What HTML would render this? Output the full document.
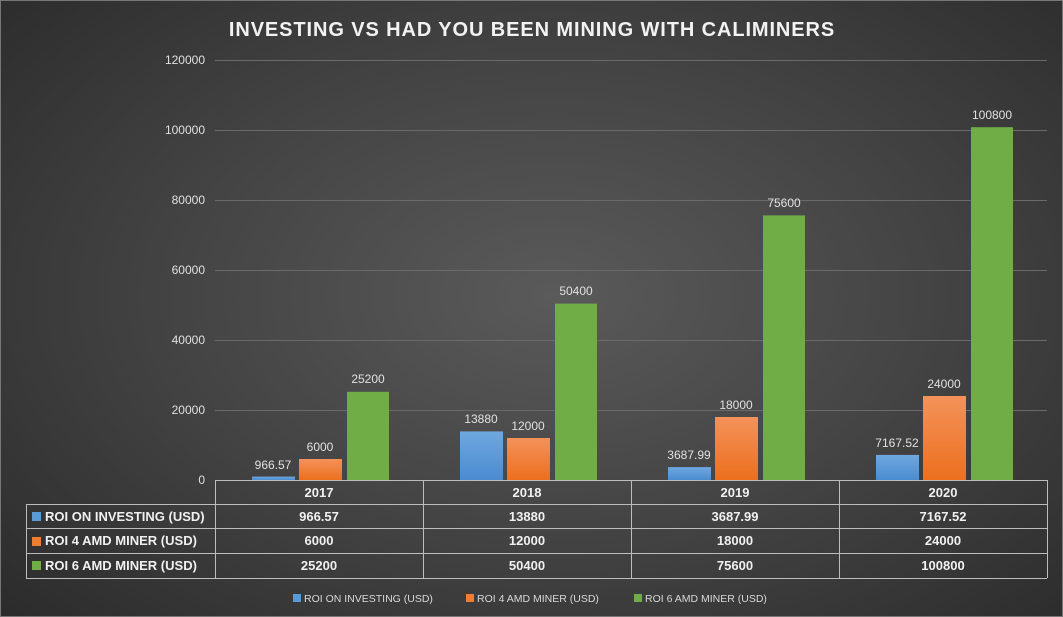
<!DOCTYPE html>
<html><head><meta charset="utf-8"><style>
html,body{margin:0;padding:0;}
body{width:1063px;height:617px;overflow:hidden;background:radial-gradient(ellipse 70% 75% at 52% 48%,#5a5a5a 0%,#444 50%,#2c2c2c 100%);font-family:"Liberation Sans",sans-serif;}
svg{position:absolute;left:0;top:0;}
</style></head><body>
<svg width="1063" height="617" xmlns="http://www.w3.org/2000/svg" font-family="Liberation Sans, sans-serif">
<rect x="0.5" y="0.5" width="1062" height="616" fill="none" stroke="#777"/>
<text x="532" y="36" text-anchor="middle" fill="#f2f2f2" font-size="20" font-weight="bold" letter-spacing="0.9">INVESTING VS HAD YOU BEEN MINING WITH CALIMINERS</text>
<g stroke="#6a6a6a" stroke-width="1">
<line x1="215" x2="1047" y1="60.5" y2="60.5"/><line x1="215" x2="1047" y1="130.5" y2="130.5"/>
<line x1="215" x2="1047" y1="200.5" y2="200.5"/><line x1="215" x2="1047" y1="270.5" y2="270.5"/>
<line x1="215" x2="1047" y1="340.5" y2="340.5"/><line x1="215" x2="1047" y1="410.5" y2="410.5"/>
</g>
<g fill="#e0e0e0" font-size="12" text-anchor="end">
<text x="205" y="64">120000</text><text x="205" y="134">100000</text><text x="205" y="204">80000</text>
<text x="205" y="274">60000</text><text x="205" y="344">40000</text><text x="205" y="414">20000</text><text x="205" y="484">0</text>
</g>
<defs>
<linearGradient id="b" x1="0" y1="0" x2="0" y2="1"><stop offset="0" stop-color="#6fa8e0"/><stop offset="1" stop-color="#4a8bd0"/></linearGradient>
<linearGradient id="o" x1="0" y1="0" x2="0" y2="1"><stop offset="0" stop-color="#f4925a"/><stop offset="1" stop-color="#ec6f1e"/></linearGradient>
</defs>
<g>
<rect x="252" y="476.6" width="43" height="3.4" fill="url(#b)"/>
<rect x="299" y="459" width="43" height="21" fill="url(#o)"/>
<rect x="347" y="391.8" width="42" height="88.2" fill="#70ad47"/>
<rect x="460" y="431.4" width="43" height="48.6" fill="url(#b)"/>
<rect x="507" y="438" width="43" height="42" fill="url(#o)"/>
<rect x="555" y="303.6" width="42" height="176.4" fill="#70ad47"/>
<rect x="668" y="467.1" width="43" height="12.9" fill="url(#b)"/>
<rect x="715" y="417" width="43" height="63" fill="url(#o)"/>
<rect x="763" y="215.4" width="42" height="264.6" fill="#70ad47"/>
<rect x="876" y="454.9" width="43" height="25.1" fill="url(#b)"/>
<rect x="923" y="396" width="43" height="84" fill="url(#o)"/>
<rect x="971" y="127.2" width="42" height="352.8" fill="#70ad47"/>
</g>
<g fill="#e0e0e0" font-size="12" text-anchor="middle">
<text x="273" y="469">966.57</text><text x="320" y="451">6000</text><text x="368" y="383">25200</text>
<text x="481" y="423">13880</text><text x="528" y="430">12000</text><text x="576" y="295">50400</text>
<text x="689" y="459">3687.99</text><text x="736" y="409">18000</text><text x="784" y="207">75600</text>
<text x="897" y="447">7167.52</text><text x="944" y="388">24000</text><text x="992" y="119">100800</text>
</g>
<g stroke="#bdbdbd" stroke-width="1" fill="none">
<line x1="215.5" y1="480" x2="215.5" y2="578"/>
<line x1="423.5" y1="480" x2="423.5" y2="578"/>
<line x1="631.5" y1="480" x2="631.5" y2="578"/>
<line x1="839.5" y1="480" x2="839.5" y2="578"/>
<line x1="1047.5" y1="480" x2="1047.5" y2="578"/>
<line x1="215" y1="480.5" x2="1047" y2="480.5"/>
<line x1="26" y1="504.5" x2="1047" y2="504.5"/>
<line x1="26" y1="528.5" x2="1047" y2="528.5"/>
<line x1="26" y1="553.5" x2="1047" y2="553.5"/>
<line x1="26" y1="578.5" x2="1047" y2="578.5"/>
<line x1="26.5" y1="504" x2="26.5" y2="578"/>
</g>
<g fill="#f0f0f0" font-size="13" font-weight="bold" text-anchor="middle">
<text x="319" y="497">2017</text><text x="527" y="497">2018</text><text x="735" y="497">2019</text><text x="943" y="497">2020</text>
<text x="319" y="521">966.57</text><text x="527" y="521">13880</text><text x="735" y="521">3687.99</text><text x="943" y="521">7167.52</text>
<text x="319" y="545">6000</text><text x="527" y="545">12000</text><text x="735" y="545">18000</text><text x="943" y="545">24000</text>
<text x="319" y="570">25200</text><text x="527" y="570">50400</text><text x="735" y="570">75600</text><text x="943" y="570">100800</text>
</g>
<rect x="32" y="512" width="9" height="9" fill="#5b9bd5"/>
<rect x="32" y="537" width="9" height="9" fill="#ed7d31"/>
<rect x="32" y="561" width="9" height="9" fill="#70ad47"/>
<g fill="#f0f0f0" font-size="13" font-weight="bold">
<text x="45" y="521">ROI ON INVESTING (USD)</text>
<text x="45" y="545">ROI 4 AMD MINER (USD)</text>
<text x="45" y="570">ROI 6 AMD MINER (USD)</text>
</g>
<rect x="293" y="594" width="8" height="8" fill="#5b9bd5"/>
<rect x="466" y="594" width="8" height="8" fill="#ed7d31"/>
<rect x="634" y="594" width="8" height="8" fill="#70ad47"/>
<g fill="#d8d8d8" font-size="10.5">
<text x="304" y="602">ROI ON INVESTING (USD)</text>
<text x="477" y="602">ROI 4 AMD MINER (USD)</text>
<text x="645" y="602">ROI 6 AMD MINER (USD)</text>
</g>
</svg>
</body></html>
